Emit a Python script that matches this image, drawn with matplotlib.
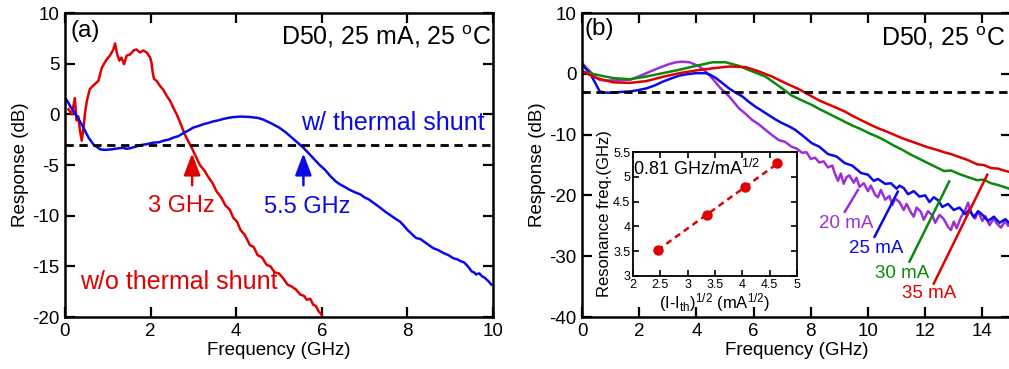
import numpy as np
import matplotlib
matplotlib.use("Agg")
import matplotlib.pyplot as plt
from matplotlib.ticker import FormatStrFormatter

plt.rcParams['font.family'] = ['Liberation Sans', 'DejaVu Sans']
plt.rcParams['mathtext.fontset'] = 'custom'
plt.rcParams['mathtext.rm'] = 'Liberation Sans'
plt.rcParams['mathtext.it'] = 'Liberation Sans'
plt.rcParams['axes.unicode_minus'] = False

RED = '#e00000'
BLUE = '#0a0ae6'
GREEN = '#0a8a0a'
PURPLE = '#9b30d9'

# ---- (a) D50, 25 mA: with / without thermal shunt ----
freq_noshunt = [0.08, 0.16, 0.23, 0.27, 0.31, 0.35, 0.39, 0.43, 0.47, 0.51, 0.58, 0.70,
                0.78, 0.86, 0.97, 1.05, 1.13, 1.17, 1.22, 1.27, 1.32, 1.38, 1.44, 1.52,
                1.60, 1.67, 1.75, 1.83, 1.91, 1.99, 2.02, 2.05, 2.08, 2.14, 2.22, 2.30,
                2.38, 2.46, 2.53, 2.61, 2.69, 2.80, 2.96, 3.05, 3.15, 3.25, 3.35, 3.45,
                3.54, 3.65, 3.75, 3.85, 3.93, 4.02, 4.10, 4.20, 4.32, 4.41, 4.50, 4.60,
                4.71, 4.80, 4.90, 5.00, 5.10, 5.20, 5.30, 5.40, 5.50, 5.58, 5.65, 5.73,
                5.80, 5.86, 5.92, 6.00]
resp_noshunt = [0.5, 0.0, 1.6, -0.6, -0.2, -1.6, -2.6, -1.4, 0.2, 1.3, 2.5, 3.0,
                3.3, 4.6, 5.4, 5.8, 6.4, 7.0, 5.9, 5.3, 5.6, 4.95, 5.8, 5.9,
                6.3, 6.4, 6.1, 6.3, 6.1, 5.6, 5.1, 4.1, 3.5, 3.3, 2.8, 2.4,
                1.8, 1.3, 0.66, 0.0, -0.8, -2.0, -3.3, -4.1, -5.0, -5.5, -6.2, -6.8,
                -7.6, -8.2, -9.0, -9.4, -10.2, -10.6, -11.4, -11.9, -12.9, -13.1, -13.9, -14.1,
                -14.85, -15.0, -15.6, -15.7, -16.2, -16.8, -17.0, -17.3, -17.8, -17.9, -18.3, -18.2,
                -18.8, -18.9, -19.4, -19.8]

freq_shunt = [0.0, 0.07, 0.14, 0.20, 0.27, 0.35, 0.43, 0.50, 0.55, 0.61, 0.67, 0.74,
              0.82, 0.90, 0.97, 1.10, 1.25, 1.35, 1.44, 1.52, 1.60, 1.68, 1.75, 1.90,
              2.06, 2.20, 2.30, 2.42, 2.53, 2.65, 2.75, 2.88, 3.00, 3.12, 3.25, 3.35,
              3.46, 3.58, 3.70, 3.82, 3.92, 4.10, 4.31, 4.50, 4.62, 4.80, 5.00, 5.15,
              5.30, 5.45, 5.57, 5.75, 5.95, 6.08, 6.20, 6.32, 6.42, 6.55, 6.65, 6.78,
              6.90, 7.00, 7.10, 7.23, 7.36, 7.48, 7.60, 7.72, 7.83, 7.92, 8.00, 8.10,
              8.20, 8.30, 8.40, 8.50, 8.60, 8.72, 8.85, 8.96, 9.07, 9.16, 9.25, 9.32,
              9.38, 9.45, 9.50, 9.56, 9.60, 9.68, 9.75, 9.80, 9.85, 9.90, 9.96]
resp_shunt = [1.65, 1.2, 0.66, 0.35, -0.16, -0.7, -1.3, -1.9, -2.3, -2.65, -3.0, -3.2,
              -3.45, -3.5, -3.5, -3.45, -3.35, -3.3, -3.4, -3.35, -3.25, -3.15, -3.05, -2.95,
              -2.8, -2.75, -2.6, -2.5, -2.3, -2.15, -1.9, -1.6, -1.3, -1.15, -0.95, -0.85,
              -0.7, -0.6, -0.45, -0.35, -0.28, -0.22, -0.26, -0.35, -0.5, -0.85, -1.3, -1.75,
              -2.3, -2.85, -3.3, -4.1, -5.0, -5.5, -6.1, -6.6, -6.9, -7.2, -7.45, -7.7,
              -7.9, -8.2, -8.4, -8.8, -9.2, -9.6, -9.95, -10.3, -10.6, -11.0, -11.4, -11.8,
              -12.2, -12.3, -12.6, -12.9, -13.2, -13.4, -13.7, -13.9, -14.2, -14.3, -14.5, -14.6,
              -14.85, -15.2, -15.5, -15.6, -15.8, -15.7, -16.0, -16.1, -16.3, -16.5, -16.8]

f3db_noshunt = 2.97
f3db_shunt = 5.57

# ---- (b) D50 at 25 C, bias current series ----
freq_20 = [0.0, 0.15, 0.30, 0.45, 0.62, 0.80, 1.00, 1.30, 1.67, 1.95, 2.25, 2.55,
           2.82, 3.05, 3.29, 3.50, 3.75, 3.92, 4.10, 4.27, 4.44, 4.62, 4.79, 4.96,
           5.14, 5.30, 5.49, 5.70, 5.95, 6.18, 6.41, 6.65, 6.88, 7.10, 7.33, 7.50,
           7.70, 7.85, 8.00, 8.15, 8.30, 8.45, 8.60, 8.75, 8.85, 8.95, 9.05, 9.15,
           9.25, 9.35, 9.50, 9.60, 9.70, 9.85, 10.00, 10.10, 10.25, 10.35, 10.45, 10.60,
           10.75, 10.85, 10.95, 11.10, 11.25, 11.35, 11.50, 11.60, 11.70, 11.85, 11.95, 12.10,
           12.25, 12.35, 12.50, 12.65, 12.80, 12.90, 13.00, 13.10, 13.25, 13.40, 13.50, 13.60,
           13.75, 13.85, 14.00, 14.10, 14.25, 14.40, 14.50, 14.65, 14.80, 14.90, 15.00]
resp_20 = [1.8, 1.0, 0.3, -0.5, -1.0, -1.1, -1.1, -1.05, -1.0, -0.5, 0.1, 0.7,
           1.2, 1.6, 1.9, 2.0, 1.9, 1.6, 1.2, 0.6, -0.16, -1.1, -2.1, -2.9,
           -3.7, -4.6, -5.7, -6.5, -7.6, -8.3, -9.2, -10.1, -10.9, -11.2, -12.0, -12.3,
           -13.0, -12.9, -14.0, -13.8, -14.6, -14.4, -15.4, -15.1, -16.5, -17.6, -16.4, -18.1,
           -17.0, -16.7, -17.9, -17.1, -18.6, -18.0, -19.3, -18.4, -19.9, -20.3, -19.1, -20.7,
           -20.1, -21.6, -20.5, -21.1, -22.4, -21.4, -22.8, -23.5, -22.0, -22.7, -24.0, -22.6,
           -23.3, -24.5, -23.2, -23.9, -25.2, -25.7, -24.3, -25.4, -23.6, -22.4, -21.2, -22.9,
           -23.8, -22.6, -24.2, -23.4, -24.9, -23.8, -24.6, -25.3, -24.2, -25.0, -24.5]

freq_25 = [0.0, 0.12, 0.28, 0.45, 0.62, 0.80, 1.00, 1.30, 1.67, 1.95, 2.25, 2.55,
           2.82, 3.10, 3.40, 3.70, 3.98, 4.33, 4.50, 4.68, 4.90, 5.14, 5.37, 5.60,
           5.83, 6.06, 6.30, 6.53, 6.76, 6.99, 7.22, 7.45, 7.75, 8.03, 8.30, 8.60,
           8.90, 9.19, 9.45, 9.75, 10.00, 10.20, 10.35, 10.60, 10.80, 11.00, 11.10, 11.25,
           11.40, 11.60, 11.80, 12.00, 12.15, 12.30, 12.45, 12.60, 12.80, 13.00, 13.20, 13.40,
           13.55, 13.70, 13.85, 14.00, 14.20, 14.40, 14.60, 14.80, 15.00]
resp_25 = [1.6, 0.9, 0.1, -1.4, -2.9, -3.1, -3.1, -3.0, -2.9, -2.7, -2.4, -1.9,
           -1.3, -0.8, -0.3, -0.05, 0.1, 0.1, -0.2, -0.7, -1.5, -2.4, -3.1, -3.7,
           -4.6, -5.4, -6.1, -6.8, -7.5, -8.1, -8.6, -9.2, -10.3, -11.4, -12.0, -13.2,
           -13.6, -14.7, -15.1, -16.3, -16.6, -17.6, -17.3, -18.1, -18.0, -18.9, -18.4, -18.8,
           -19.8, -19.3, -20.2, -20.0, -21.1, -20.3, -20.8, -21.9, -21.4, -22.4, -22.0, -23.1,
           -22.3, -23.6, -22.6, -23.2, -24.2, -23.5, -24.5, -23.9, -24.8]

freq_30 = [0.0, 0.51, 1.09, 1.67, 2.25, 2.82, 3.40, 3.98, 4.56, 5.02, 5.49, 5.95,
           6.41, 6.88, 7.34, 7.70, 8.03, 8.30, 8.60, 8.90, 9.19, 9.45, 9.75, 10.05,
           10.35, 10.60, 10.90, 11.20, 11.50, 11.80, 12.10, 12.40, 12.66, 12.90, 13.20, 13.50,
           13.82, 14.05, 14.30, 14.55, 14.75, 15.00]
resp_30 = [0.4, -0.16, -0.7, -0.9, -0.44, 0.1, 0.66, 1.3, 1.9, 1.9, 1.3, 0.4,
           -0.44, -2.0, -3.6, -4.4, -5.1, -5.8, -6.5, -7.2, -7.9, -8.5, -9.1, -9.8,
           -10.4, -11.0, -11.8, -12.5, -13.3, -14.0, -14.7, -15.4, -16.0, -15.9, -16.5, -17.0,
           -17.5, -17.4, -18.0, -18.3, -18.6, -19.0]

freq_35 = [0.0, 0.51, 1.09, 1.67, 2.25, 2.82, 3.40, 3.98, 4.56, 5.14, 5.72, 6.18,
           6.64, 7.10, 7.57, 8.03, 8.30, 8.60, 8.90, 9.19, 9.45, 9.75, 10.05, 10.35,
           10.60, 10.90, 11.20, 11.50, 11.80, 12.10, 12.40, 12.66, 12.90, 13.20, 13.50, 13.82,
           14.05, 14.30, 14.55, 14.75, 15.00]
resp_35 = [0.4, -0.7, -1.4, -1.5, -1.2, -0.5, 0.1, 0.55, 0.9, 1.2, 1.1, 0.4,
           -0.44, -1.5, -2.5, -3.7, -4.4, -5.0, -5.6, -6.2, -6.9, -7.6, -8.3, -8.95,
           -9.4, -10.0, -10.6, -11.1, -11.6, -12.1, -12.5, -12.9, -13.2, -13.7, -14.2, -14.9,
           -15.0, -15.5, -15.6, -15.9, -16.2]

# current labels: leader line ends and text position
curr_labels = ['20 mA', '25 mA', '30 mA', '35 mA']
curr_colors = [PURPLE, BLUE, GREEN, RED]
leader_x0 = [9.19, 10.23, 11.45, 12.30]
leader_y0 = [-22.7, -26.8, -30.9, -34.5]
leader_x1 = [9.65, 11.04, 12.84, 14.17]
leader_y1 = [-19.1, -19.4, -17.7, -16.6]
label_x = [9.25, 10.29, 11.20, 12.14]
label_y = [-24.6, -28.7, -32.8, -36.1]

# inset: resonance frequency vs sqrt(I - Ith)
sqrt_dI = [2.45, 3.36, 4.04, 4.64]
f_res = [3.53, 4.23, 4.79, 5.27]

fig = plt.figure(figsize=(10.09, 3.69), dpi=100)
W, H = 1009.0, 369.0
ax_a = fig.add_axes([65 / W, 1 - 317 / H, 428 / W, 304 / H])
ax_b = fig.add_axes([582 / W, 1 - 317 / H, 429 / W, 304 / H])

LW = 1.8


def style_main(ax):
    for s in ax.spines.values():
        s.set_linewidth(1.8)
    ax.tick_params(direction='in', length=7, width=1.6, top=True, right=True,
                   labelsize=13.5, pad=4)
    ax.set_xlabel('Frequency (GHz)', fontsize=13.5, labelpad=2)
    ax.set_ylabel('Response (dB)', fontsize=13.5, labelpad=2)


# panel (a)
ax_a.plot(freq_noshunt, resp_noshunt, color=RED, lw=LW)
ax_a.plot(freq_shunt, resp_shunt, color=BLUE, lw=LW)
ax_a.plot([0, 10], [-3, -3], color='black', lw=2, dashes=(3, 2))
ax_a.set_xlim(0, 10)
ax_a.set_ylim(-20, 10)
ax_a.set_xticks([0, 2, 4, 6, 8, 10])
ax_a.set_yticks([10, 5, 0, -5, -10, -15, -20])
style_main(ax_a)

for f, c in [(f3db_noshunt, RED), (f3db_shunt, BLUE)]:
    ax_a.annotate('', xy=(f, -3.85), xytext=(f, -7.0),
                  arrowprops=dict(arrowstyle='-|>,head_length=0.95,head_width=0.36',
                                  mutation_scale=14, color=c, lw=1.8,
                                  shrinkA=0, shrinkB=0))
ax_a.text(2.73, -9.0, '3 GHz', color=RED, fontsize=17, ha='center', va='center')
ax_a.text(5.65, -9.1, '5.5 GHz', color=BLUE, fontsize=17, ha='center', va='center')
ax_a.text(9.81, -0.9, 'w/ thermal shunt', color=BLUE, fontsize=18, ha='right', va='center')
ax_a.text(0.35, -16.5, 'w/o thermal shunt', color=RED, fontsize=18, ha='left', va='center')
ax_a.text(0.12, 8.2, '(a)', fontsize=17.5, ha='left', va='center')
ax_a.text(9.97, 7.7, r'D50, 25 mA, 25 $^{\mathrm{o}}$C', fontsize=18, ha='right', va='center')

# panel (b)
ax_b.plot(freq_20, resp_20, color=PURPLE, lw=LW)
ax_b.plot(freq_25, resp_25, color=BLUE, lw=LW)
ax_b.plot(freq_30, resp_30, color=GREEN, lw=LW)
ax_b.plot(freq_35, resp_35, color=RED, lw=LW)
ax_b.plot([0, 15], [-3, -3], color='black', lw=2, dashes=(3, 2))
for i in range(len(curr_labels)):
    ax_b.plot([leader_x0[i], leader_x1[i]], [leader_y0[i], leader_y1[i]],
              color=curr_colors[i], lw=LW)
    ax_b.text(label_x[i], label_y[i], curr_labels[i], color=curr_colors[i],
              fontsize=13.5, ha='center', va='center')
ax_b.set_xlim(0, 15)
ax_b.set_ylim(-40, 10)
ax_b.set_xticks([0, 2, 4, 6, 8, 10, 12, 14])
ax_b.set_yticks([10, 0, -10, -20, -30, -40])
style_main(ax_b)
ax_b.text(0.1, 7.3, '(b)', fontsize=17.5, ha='left', va='center')
ax_b.text(14.8, 5.9, r'D50, 25 $^{\mathrm{o}}$C', fontsize=18, ha='right', va='center')

# inset with linear fit
ax_in = fig.add_axes([633 / W, 1 - 276 / H, 164 / W, 124 / H])
slope, icpt = np.polyfit(sqrt_dI, f_res, 1)
xf = np.array([sqrt_dI[0], sqrt_dI[-1]])
ax_in.plot(xf, slope * xf + icpt, color=RED, lw=1.8, dashes=(2.5, 1.8))
ax_in.plot(sqrt_dI, f_res, 'o', color=RED, ms=6.5)
ax_in.set_xlim(2, 5)
ax_in.set_ylim(3, 5.5)
ax_in.set_xticks(np.arange(2, 5.01, 0.5))
ax_in.set_yticks(np.arange(3, 5.51, 0.5))
ax_in.xaxis.set_major_formatter(FormatStrFormatter('%g'))
ax_in.yaxis.set_major_formatter(FormatStrFormatter('%g'))
for s in ax_in.spines.values():
    s.set_linewidth(1.3)
ax_in.tick_params(direction='in', length=4, width=1.2, top=True, right=True,
                  labelsize=9, pad=2)
ax_in.set_ylabel('Resonance freq.(GHz)', fontsize=12, labelpad=1)
ax_in.set_xlabel(r'(I-I$_{\mathrm{th}}$)$^{\mathrm{1/2}}$ (mA$^{\mathrm{1/2}}$)',
                 fontsize=12, labelpad=0)
ax_in.text(0.0, 0.86, r'0.81 GHz/mA$^{\mathrm{1/2}}$', transform=ax_in.transAxes,
           fontsize=13, ha='left', va='center')

fig.savefig('out.png', dpi=100)
